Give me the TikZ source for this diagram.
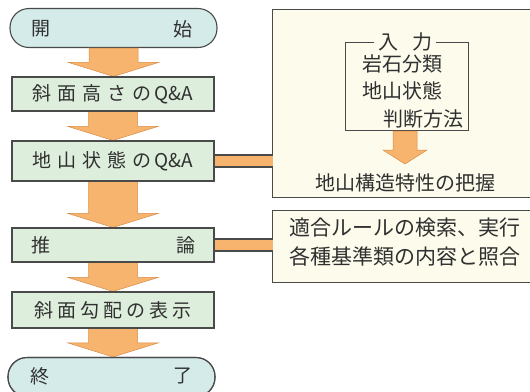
\documentclass[tikz,border=0pt]{standalone}
\usepackage{fontspec}
\setmainfont{Noto Sans CJK JP}
\usetikzlibrary{calc}
\definecolor{boxgreen}{HTML}{DDEEDC}
\definecolor{pillcyan}{HTML}{D4EBEA}
\definecolor{arroworange}{HTML}{F6B46E}
\definecolor{arrowedge}{HTML}{D98C45}
\definecolor{cream}{HTML}{FDFBEC}
\definecolor{edge}{HTML}{4A4A4A}
\definecolor{ink}{HTML}{303030}
\tikzset{
  flowbox/.style={draw=edge, line width=1.1pt, fill=boxgreen, minimum width=202pt, inner sep=0pt},
  pill/.style={draw=edge, line width=1.1pt, fill=pillcyan, rounded corners=19pt, minimum width=207pt, minimum height=39pt, inner sep=0pt},
  outline/.style={draw=edge, line width=1.1pt, fill=none},
  lbl/.style={text=ink, font=\fontsize{19}{22}\selectfont, inner sep=0pt},
  rlbl/.style={text=ink, font=\fontsize{20}{24}\selectfont, inner sep=0pt},
  sidebox/.style={fill=cream, draw=none, inner sep=0pt},
  sideedge/.style={draw=edge, line width=1.1pt},
  barrow/.style={fill=arroworange, draw=arrowedge, line width=0.5pt, line join=miter},
  band/.style={fill=arroworange, draw=none},
  bandline/.style={draw=edge, line width=1.1pt},
}
\newcommand\bigarrow[2]{%
  \draw[barrow] let \p1=(#1.south), \p2=(#2.north) in
    (\x1-24.5pt,\y1) -- (\x1-24.5pt,\y2+14pt) -- (\x1-45pt,\y2+14pt) -- (\x1,\y2)
    -- (\x1+45pt,\y2+14pt) -- (\x1+24.5pt,\y2+14pt) -- (\x1+24.5pt,\y1) -- cycle;}
\newcommand\sideband[2]{%
  \fill[band] let \p1=(#1.east), \p2=(#2.west) in (\x1,\y1+6pt) rectangle (\x2,\y1-6pt);
  \draw[bandline] let \p1=(#1.east), \p2=(#2.west) in (\x1,\y1+6pt) -- (\x2,\y1+6pt) (\x1,\y1-6pt) -- (\x2,\y1-6pt);}
\begin{document}
\begin{tikzpicture}[x=1pt,y=-1pt]
\useasboundingbox (0,0) rectangle (530,391);
% right side boxes (open on the right, cut by the page edge)
\node[sidebox, minimum width=257pt, minimum height=187pt] (rb1) at (401.5,103.5) {};
\draw[sideedge] (rb1.north east) -- (rb1.north west) -- (rb1.south west) -- (rb1.south east);
\node[sidebox, minimum width=257pt, minimum height=71pt] (rb2) at (401.5,246.5) {};
\draw[sideedge] (rb2.north east) -- (rb2.north west) -- (rb2.south west) -- (rb2.south east);
% flow boxes
\node[pill] (start) at (113.5,28) {};
\node[flowbox, minimum height=34pt] (b1) at (113,94) {};
\node[flowbox, minimum height=40pt] (b2) at (113,161) {};
\node[flowbox, minimum height=34pt] (b3) at (113,245) {};
\node[flowbox, minimum height=36pt] (b4) at (113,310) {};
\node[pill] (stop) at (111.5,377) {};
% block arrows
\bigarrow{start}{b1}
\bigarrow{b1}{b2}
\bigarrow{b2}{b3}
\bigarrow{b3}{b4}
\bigarrow{b4}{stop}
% box outlines over the arrow tips
\draw[outline] (b1.north west) rectangle (b1.south east);
\draw[outline] (b2.north west) rectangle (b2.south east);
\draw[outline] (b3.north west) rectangle (b3.south east);
\draw[outline] (b4.north west) rectangle (b4.south east);
\node[pill, fill=none] at (stop.center) {};
% labels
\node[lbl] (kai) at (41,29) {開};
\node[lbl] (shi) at (183,29) {始};
\node[lbl] (t1) at (b1.center) {斜\kern6pt 面\kern6pt 高\kern6pt さ\kern6pt の\kern3pt Q\&A};
\node[lbl] (t2) at (b2.center) {地\kern6pt 山\kern6pt 状\kern6pt 態\kern6pt の\kern3pt Q\&A};
\node[lbl] (sui) at (41,245) {推};
\node[lbl] (ron) at (186,245) {論};
\node[lbl] (t4) at (b4.center) {斜\kern4pt 面\kern4pt 勾\kern4pt 配\kern4pt の\kern4pt 表\kern4pt 示};
\node[lbl] (shu) at (40,376) {終};
\node[lbl] (ryo) at (183,376) {了};
% side connectors
\sideband{b2}{rb1}
\sideband{b3}{rb2}
% input bracket
\node[rlbl] (inp) at (405,42) {入\kern14pt 力};
\draw[sideedge, line width=0.8pt] ([xshift=-4pt]inp.west) -- (345,42) -- (345,130) -- (468,130) -- (468,42) -- ([xshift=4pt]inp.east);
\node[rlbl] (r1) at (402,64) {岩石分類};
\node[rlbl] (r2) at (402,91) {地山状態};
\node[rlbl, anchor=east] (r3) at (464,119) {判断方法};
% small arrow
\coordinate (sa) at (405,131);
\coordinate (sb) at (405,164);
\draw[barrow] let \p1=(sa), \p2=(sb) in
  (\x1-12pt,\y1) -- (\x1-12pt,\y2+14pt) -- (\x1-22pt,\y2+14pt) -- (\x1,\y2)
  -- (\x1+22pt,\y2+14pt) -- (\x1+12pt,\y2+14pt) -- (\x1+12pt,\y1) -- cycle;
\node[rlbl] (r4) at (405,183) {地山構造特性の把握};
\node[rlbl, font=\fontsize{21}{25}\selectfont] (r5) at (405,228) {適合ルールの検索、実行};
\node[rlbl, font=\fontsize{21}{25}\selectfont] (r6) at (405,256) {各種基準類の内容と照合};
\end{tikzpicture}
\end{document}
